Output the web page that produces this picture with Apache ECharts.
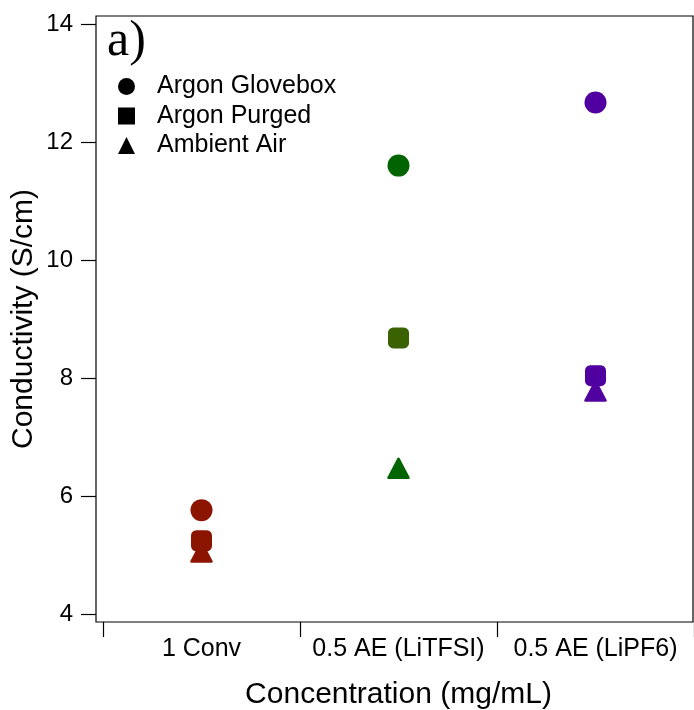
<!DOCTYPE html>
<html>
<head>
<meta charset="utf-8">
<script src="https://cdn.jsdelivr.net/npm/echarts@6/dist/echarts.min.js"></script>
<style>
html,body{margin:0;padding:0;background:#fff;}
#chart{width:694px;height:710px;}
</style>
</head>
<body>
<div id="chart"></div>
<script>
// ---- data ----
var categories = ['1 Conv', '0.5 AE (LiTFSI)', '0.5 AE (LiPF6)'];
var seriesNames = ['Argon Glovebox', 'Argon Purged', 'Ambient Air'];
var glovebox = [5.76, 11.60, 12.67];
var purged = [5.24, 8.68, 8.04];
var ambient = [5.05, 6.47, 7.78];
var yTicks = [4, 6, 8, 10, 12, 14];
var gloveboxColors = ['#8b1500', '#006400', '#5000a0'];
var purgedColors = ['#8b1500', '#3a6200', '#5000a0'];
var ambientColors = ['#8b1500', '#006400', '#5000a0'];

var FONT = 'Liberation Sans, Arial, sans-serif';

function pts(values, colors) {
  return values.map(function (v, i) {
    return {
      value: [categories[i], v],
      itemStyle: { color: colors[i], borderColor: colors[i] }
    };
  });
}

var chart = echarts.init(document.getElementById('chart'), null, { renderer: 'canvas' });
var option = {
  animation: false,
  backgroundColor: '#fff',
  title: {
    text: 'a)',
    left: 107,
    top: 17,
    padding: 0,
    textStyle: { fontFamily: 'Liberation Serif, Times New Roman, serif', fontSize: 50, fontWeight: 'normal', color: '#000' }
  },
  legend: {
    orient: 'vertical',
    left: 118,
    top: 74,
    padding: 0,
    itemWidth: 17,
    itemHeight: 17,
    itemGap: 4.5,
    itemStyle: { color: '#000', borderWidth: 0 },
    textStyle: { fontFamily: FONT, fontSize: 25, color: '#000', lineHeight: 24, padding: [0, 0, 0, 17] },
    data: [
      { name: seriesNames[0], icon: 'circle' },
      { name: seriesNames[1], icon: 'rect' },
      { name: seriesNames[2], icon: 'triangle' }
    ]
  },
  grid: [
    { left: 103, right: 0, top: 16, bottom: 88, containLabel: false, outerBoundsMode: 'none' },
    { left: 96, right: 1, top: 16, bottom: 88, show: true, borderColor: '#000', borderWidth: 1.2, backgroundColor: 'transparent', containLabel: false, outerBoundsMode: 'none' }
  ],
  xAxis: [
    {
      type: 'category',
      gridIndex: 0,
      data: categories,
      boundaryGap: true,
      name: 'Concentration (mg/mL)',
      nameLocation: 'middle',
      nameGap: 58,
      nameMoveOverlap: false,
      nameTextStyle: { fontFamily: FONT, fontSize: 30, color: '#000' },
      axisLine: { show: false },
      axisTick: { show: true, inside: false, interval: 0, length: 15, lineStyle: { color: '#000', width: 1.2 } },
      axisLabel: { fontFamily: FONT, fontSize: 25, color: '#000', margin: 15, interval: 0, hideOverlap: false },
      splitLine: { show: false }
    },
    { type: 'value', gridIndex: 1, show: false }
  ],
  yAxis: [
    {
      type: 'value',
      gridIndex: 0,
      min: 3.864,
      max: 14.136,
      offset: 7,
      name: 'Conductivity (S/cm)',
      nameLocation: 'middle',
      nameGap: 57,
      nameMoveOverlap: false,
      nameTextStyle: { fontFamily: FONT, fontSize: 30, color: '#000' },
      axisLine: { show: false },
      axisTick: { show: true, inside: false, length: 15, customValues: yTicks, lineStyle: { color: '#000', width: 1.2 } },
      axisLabel: { fontFamily: FONT, fontSize: 24, color: '#000', margin: 23, customValues: yTicks },
      splitLine: { show: false }
    },
    { type: 'value', gridIndex: 1, show: false }
  ],
  series: [
    {
      name: seriesNames[0], type: 'scatter', xAxisIndex: 0, yAxisIndex: 0,
      symbol: 'circle', symbolSize: 22,
      itemStyle: { color: '#000', borderWidth: 0, opacity: 1 },
      data: pts(glovebox, gloveboxColors)
    },
    {
      name: seriesNames[2], type: 'scatter', xAxisIndex: 0, yAxisIndex: 0,
      symbol: 'triangle', symbolSize: [20, 19],
      itemStyle: { color: '#000', borderWidth: 2.5, borderJoin: 'round', borderColor: '#000', opacity: 1 },
      data: pts(ambient, ambientColors)
    },
    {
      name: seriesNames[1], type: 'scatter', xAxisIndex: 0, yAxisIndex: 0,
      symbol: 'roundRect', symbolSize: 21,
      itemStyle: { color: '#000', borderWidth: 0, opacity: 1 },
      data: pts(purged, purgedColors)
    }
  ]
};
chart.setOption(option);
</script>
</body>
</html>
